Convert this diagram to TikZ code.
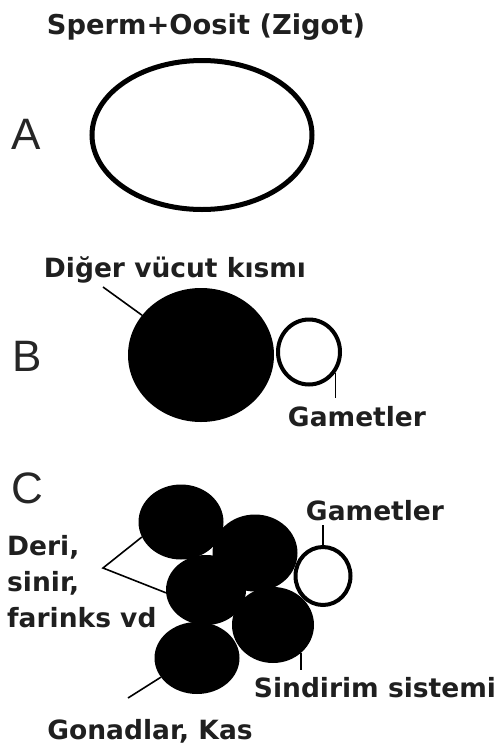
\documentclass[tikz,border=0pt]{standalone}
\usepackage{fontspec}
\setmainfont{DejaVu Sans}
\newfontfamily\labfont{Liberation Sans}
\usetikzlibrary{shapes.geometric}
\begin{document}
\begin{tikzpicture}[x=1pt,y=-1pt,
  txt/.style={font=\bfseries\fontsize{26.5}{36}\selectfont, inner sep=0pt, text=black!88},
  letter/.style={font=\labfont\fontsize{44}{44}\selectfont, inner sep=0pt, anchor=base, text=black!85},
  blob/.style={ellipse, fill=black, inner sep=0pt},
  hollow/.style={ellipse, draw=black, fill=white, inner sep=0pt},
  leader/.style={draw=black, line width=1.6pt}]
\useasboundingbox (0,0) rectangle (500,745);

% Title and A
\node[txt, anchor=base, font=\bfseries\fontsize{27.3}{36}\selectfont] (title) at (206,34) {Sperm+Oosit (Zigot)};
\node[letter] (la) at (26,149) {A};
\node[hollow, line width=5pt, minimum width=220, minimum height=149] (zyg) at (202,135) {};

% B
\node[letter] (lb) at (27,371) {B};
\node[blob, minimum width=146, minimum height=134] (body) at (201,355) {};
\node[hollow, line width=4pt, minimum width=62, minimum height=65] (gB) at (309,352) {};
\node[txt, anchor=base] (dvk) at (175,277) {Diğer vücut kısmı};
\node[txt, anchor=base] (gtB) at (357,426) {Gametler};
\coordinate (dvkend) at (103,287);
\draw[leader] (dvkend) -- (body.146);
\draw[leader] (gB.-38) -- (gB.-38 |- 0,398);

% C
\node[letter] (lc) at (27,503) {C};
\node[blob, minimum width=85, minimum height=75] (c1) at (181,522) {};
\node[blob, minimum width=85, minimum height=77] (c2) at (255,553) {};
\node[blob, minimum width=80, minimum height=70] (c3) at (206,590) {};
\node[blob, minimum width=82, minimum height=76] (c4) at (273,625) {};
\node[blob, minimum width=85, minimum height=72] (c5) at (197,658) {};
\node[hollow, line width=4pt, minimum width=55, minimum height=58] (gC) at (323,576) {};

\node[txt, anchor=base] (gtC) at (375,520) {Gametler};
\node[txt, anchor=north west, align=left] (deri) at (7,535) {Deri,\\sinir,\\farinks vd};
\node[txt, anchor=base] (sind) at (375,697) {Sindirim sistemi};
\node[txt, anchor=base] (gon) at (150,739) {Gonadlar, Kas};

\coordinate (derij) at (103,568);
\draw[leader] (c1.201) -- (derij) -- (c3.184);
\draw[leader] (gC.north) -- (gC.north |- 0,525);
\draw[leader] (c4.-45) -- (c4.-45 |- 0,670);
\coordinate (gonend) at (128,698);
\draw[leader] (gonend) -- (c5.208);
\end{tikzpicture}
\end{document}
